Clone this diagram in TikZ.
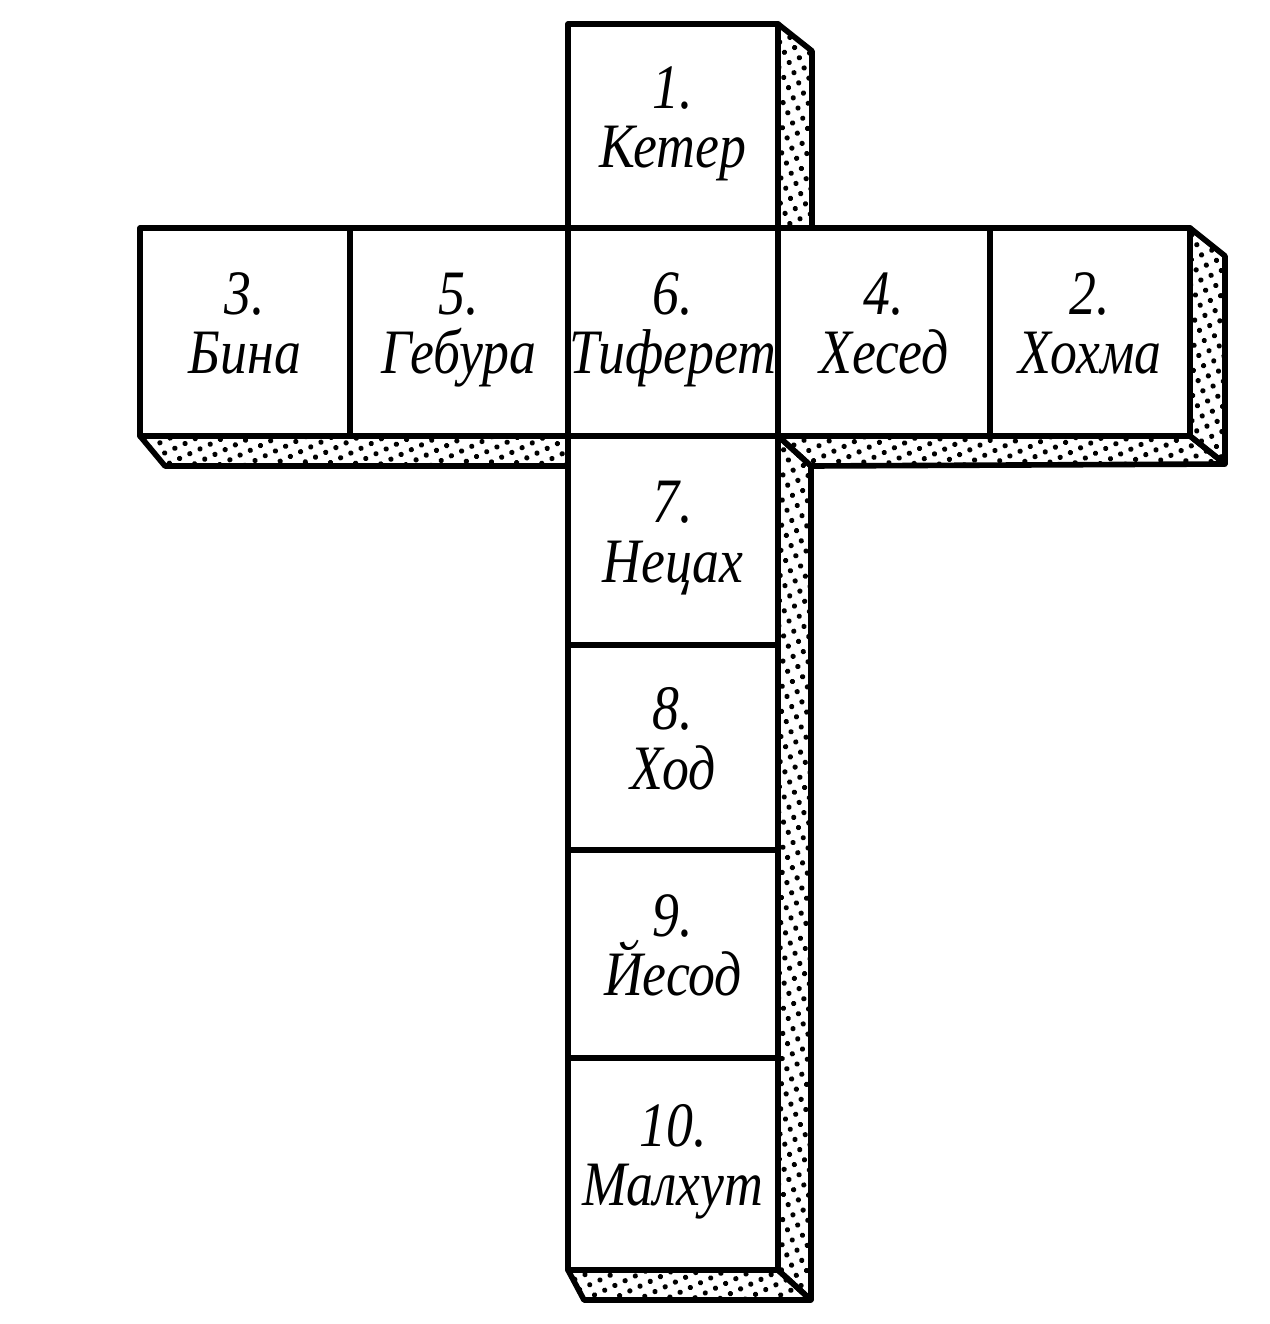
\documentclass[tikz,border=0pt]{standalone}
\usepackage{fontspec}
\setmainfont{Liberation Serif}[FakeStretch=0.85]
\usepackage{tikz}
\usetikzlibrary{chains,positioning,patterns.meta}
\lineskiplimit=-1000pt

\begin{document}
\begin{tikzpicture}[x=0.1mm,y=-0.1mm,line width=1.6pt,line join=round,
  sefira/.style={draw,fill=white,minimum width=21mm,minimum height=20.8mm,
    inner sep=0pt,outer sep=0pt,align=center,
    font=\fontsize{18}{17}\selectfont\itshape},
  side/.style={draw,pattern={Dots[radius=0.75pt,distance=3.2pt,angle=25]}}
]
\useasboundingbox (0,0) rectangle (1270,1324);

% the horizontal bar
\begin{scope}[shift={(245,332)},start chain=going right,node distance=0pt]
\foreach \num/\name/\id/\w in {3./Бина/bina/21, 5./Гебура/gevura/21.8,
    6./Тиферет/tiferet/21, 4./Хесед/hesed/21.2, 2./Хохма/hokhma/20}
    \node[sefira,on chain,minimum width=\w mm] (\id) {\strut\num\\\strut\name};
\end{scope}

% the top
\node[sefira,above=0pt of tiferet,minimum height=20.4mm] (keter) {\strut 1.\\\strut Кетер};

% the column
\begin{scope}[shift={(673,540.5)},start chain=going below,node distance=0pt]
\foreach \num/\name/\id/\h in {7./Нецах/netsah/20.9, 8./Ход/hod/20.5,
    9./Йесод/yesod/20.8, 10./Малхут/malkhut/21.2}
    \node[sefira,on chain,minimum height=\h mm] (\id) {\strut\num\\\strut\name};
\end{scope}

% the dotted sides
\path[side] (keter.north east) -- ([shift={(34,27)}]keter.north east)
    |- (keter.south east) -- cycle;
\path[side] (hokhma.north east) -- ([shift={(35,28)}]hokhma.north east)
    -- ([shift={(35,28)}]hokhma.south east) -- (hokhma.south east) -- cycle;
\path[side] (hesed.south west) -- (hokhma.south east)
    -- ([shift={(35,28)}]hokhma.south east) -- ([shift={(33,30)}]hesed.south west) -- cycle;
\path[side] (bina.south west) -- (gevura.south east)
    -- ([shift={(0,30)}]gevura.south east) -- ([shift={(25,30)}]bina.south west) -- cycle;
\path[side] (netsah.north east) -- ([shift={(33,30)}]netsah.north east)
    -- ([shift={(33,30)}]malkhut.south east) -- (malkhut.south east) -- cycle;
\path[side] (malkhut.south west) -- (malkhut.south east)
    -- ([shift={(33,30)}]malkhut.south east) -- ([shift={(16,30)}]malkhut.south west) -- cycle;

\end{tikzpicture}
\end{document}
